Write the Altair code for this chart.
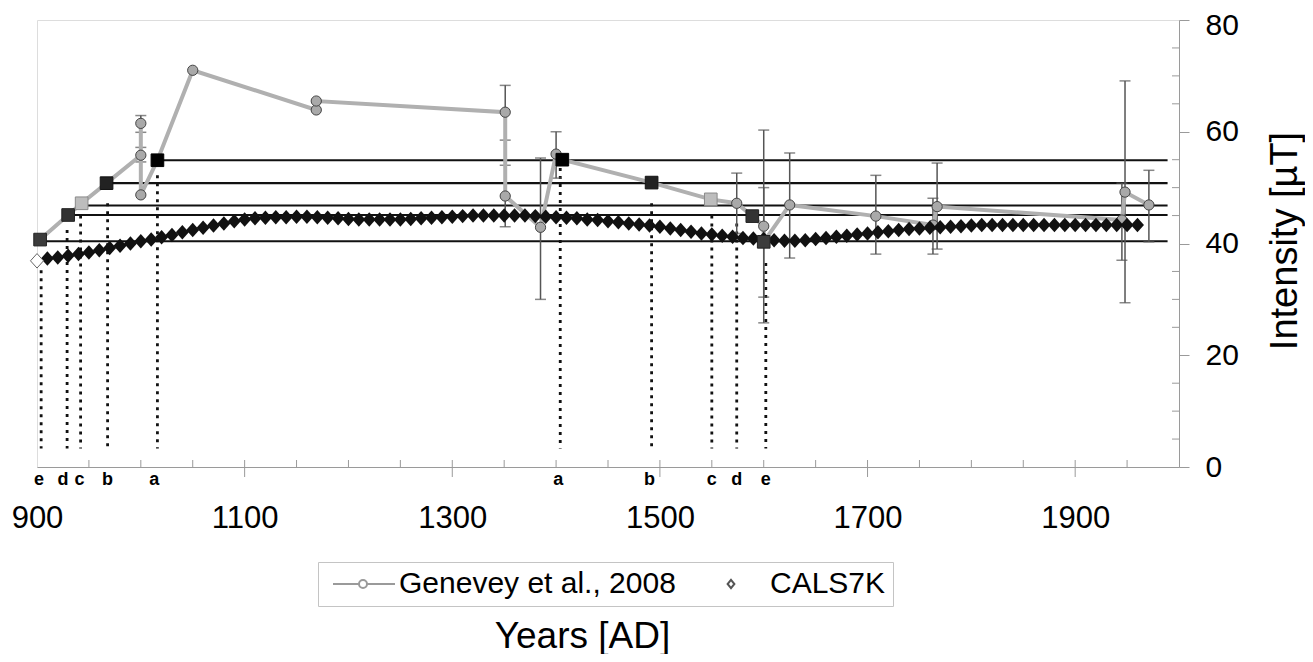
import altair as alt
import pandas as pd

FONT = "Liberation Sans"
W, H = 1142, 447

G_NAME = "Genevey et al., 2008"
C_NAME = "CALS7K"

# ---------------- data ----------------
cals_years = list(range(910, 1961, 10))
cals_values = [
    37.3, 37.5, 37.8, 38.1, 38.4, 38.8, 39.2, 39.6, 40.0, 40.4,
    40.7, 41.1, 41.5, 42.0, 42.4, 42.8, 43.2, 43.6, 44.0, 44.3,
    44.5, 44.6, 44.7, 44.7, 44.8, 44.8, 44.7, 44.6, 44.5, 44.4,
    44.3, 44.3, 44.3, 44.3, 44.3, 44.4, 44.5, 44.6, 44.7, 44.8,
    44.9, 45.0, 45.0, 45.0, 45.0, 45.0, 45.0, 44.9, 44.8, 44.7,
    44.6, 44.5, 44.3, 44.2, 44.0, 43.8, 43.6, 43.4, 43.2, 43.0,
    42.7, 42.4, 42.1, 41.8, 41.6, 41.4, 41.2, 41.0, 40.9, 40.8,
    40.6, 40.5, 40.5, 40.6, 40.8, 41.0, 41.2, 41.4, 41.6, 41.8,
    42.0, 42.2, 42.4, 42.6, 42.7, 42.8, 42.9, 43.0, 43.1, 43.2,
    43.3, 43.3, 43.3, 43.3, 43.3, 43.3, 43.3, 43.3, 43.3, 43.3,
    43.3, 43.3, 43.3, 43.3, 43.3, 43.3,
]
cals_open_years = [900]
cals_open_values = [36.9]

circle_years = [1000, 1000, 1000, 1050, 1169, 1169, 1351, 1351, 1385, 1400,
                1574, 1600, 1625, 1708, 1763, 1767, 1945, 1948, 1971]
circle_values = [55.8, 61.5, 48.7, 71.0, 63.9, 65.5, 63.5, 48.5, 42.9, 56.0,
                 47.2, 43.1, 46.9, 44.9, 43.3, 46.6, 44.2, 49.2, 46.9]

square_years = [903, 930, 943, 967, 1016, 1406, 1492, 1549, 1589, 1600]
square_values = [40.7, 45.1, 47.2, 50.8, 54.9, 55.0, 50.9, 47.9, 44.9, 40.3]
square_labels = ["e", "d", "c", "b", "a", "a", "b", "c", "d", "e"]

err_years = [1000, 1000, 1351, 1351, 1385, 1400, 1574, 1600, 1600, 1625,
             1708, 1763, 1767, 1945, 1948, 1971]
err_lo = [54.6, 59.9, 58.5, 43.0, 30.0, 51.7, 41.8, 25.8, 30.4, 37.4,
          38.1, 38.1, 39.0, 37.0, 29.4, 40.3]
err_hi = [57.2, 62.9, 68.3, 54.0, 55.3, 60.0, 52.6, 60.3, 50.0, 56.2,
          52.2, 48.1, 54.4, 50.8, 69.1, 53.1]

hline_start = [903, 930, 943, 967, 1016]
hline_level = [40.4, 45.1, 46.8, 50.8, 54.9]
hline_end = 1989

dot_years = [904, 929, 942, 968, 1016, 1404, 1492, 1550, 1574, 1602]
dot_top = [35.2, 42.4, 45.0, 47.2, 52.2, 53.5, 47.2, 45.0, 43.6, 36.5]
dot_bottom = 3.3

letter_years = [902, 925, 941, 968, 1013, 1402, 1490, 1550, 1574, 1602]
letters = ["e", "d", "c", "b", "a", "a", "b", "c", "d", "e"]

x_label_values = [900, 1100, 1300, 1500, 1700, 1900]
x_minor = list(range(950, 1951, 50))
x_major = [1100, 1300, 1500, 1700, 1900]
y_label_values = [0, 20, 40, 60, 80]
y_minor = [5, 10, 15, 25, 30, 35, 45, 50, 55, 65, 70, 75]

# styles
square_fill = {"a": "#000000", "b": "#222222", "c": "#bdbdbd", "d": "#333333", "e": "#3c3c3c"}
square_stroke = {"a": "#000000", "b": "#111111", "c": "#8a8a8a", "d": "#222222", "e": "#222222"}
DIAMOND = "M0,-1L0.9,0L0,1L-0.9,0Z"
LEG_LINE = "M-0.7,0L1.9,0M2.7,0A0.4,0.4,0,1,1,1.9,0A0.4,0.4,0,1,1,2.7,0M2.7,0L5.5,0"
LEG_DIAMOND = "M2,-0.42L2.34,0L2,0.42L1.66,0Z"

# ---------------- frames ----------------
cals_df = pd.DataFrame({"year": cals_years, "value": cals_values})
cals_open_df = pd.DataFrame({"year": cals_open_years, "value": cals_open_values})
circ_df = pd.DataFrame({"year": circle_years, "value": circle_values})
sq_df = pd.DataFrame({"year": square_years, "value": square_values, "lab": square_labels})
sq_df["fill"] = sq_df["lab"].map(square_fill)
sq_df["strk"] = sq_df["lab"].map(square_stroke)
line_df = pd.concat([circ_df[["year", "value"]], sq_df[["year", "value"]]], ignore_index=True)
line_df = line_df.sort_values("year", kind="stable").reset_index(drop=True)
line_df["idx"] = range(len(line_df))
err_df = pd.DataFrame({"year": err_years, "lo": err_lo, "hi": err_hi})
hl_df = pd.DataFrame({"year": hline_start, "end": [hline_end] * len(hline_start), "value": hline_level})
dot_df = pd.DataFrame({"year": dot_years, "value": dot_top, "bottom": [dot_bottom] * len(dot_years)})
let_df = pd.DataFrame({"year": letter_years, "lab": letters})
xminor_df = pd.DataFrame({"year": x_minor})
xmajor_df = pd.DataFrame({"year": x_major})
yminor_df = pd.DataFrame({"value": y_minor})
leg_df = pd.DataFrame({"series": [G_NAME, C_NAME], "year": [900, 900], "value": [0, 0]})

x_axis = alt.Axis(
    values=x_label_values, ticks=False, grid=False, domainColor="#9a9a9a",
    labelFont=FONT, labelFontSize=31, labelColor="black", labelPadding=60,
    labelBaseline="alphabetic", labelFlush=False, format="d",
    title="Years [AD]", titleFont=FONT, titleFontSize=37, titleFontWeight="normal",
    titleColor="black", titleX=545, titleY=180, titleAlign="center",
    titleBaseline="alphabetic",
)
y_axis = alt.Axis(
    orient="right", values=y_label_values, tickSize=10, tickColor="#9a9a9a",
    domainColor="#9a9a9a", grid=False, labelFlush=False,
    labelFont=FONT, labelFontSize=30, labelColor="black", labelPadding=16,
    labelOffset={"condition": {"test": "datum.value >= 80", "value": 5}, "value": 0},
    title="Intensity [µT]", titleFont=FONT, titleFontSize=38, titleFontWeight="normal",
    titleColor="black", titleAngle=270, titleX=106, titleY=H / 2 - 3,
    titleAlign="center", titleBaseline="middle",
)
xs = alt.Scale(domain=[900, 2000], nice=False, zero=False)
ys = alt.Scale(domain=[0, 80], nice=False)


def X(f="year"):
    return alt.X(f + ":Q", scale=xs, axis=x_axis)


def Y(f="value"):
    return alt.Y(f + ":Q", scale=ys, axis=y_axis)


hlines = alt.Chart(hl_df).mark_rule(color="#111111", strokeWidth=2.2).encode(
    x=X(), x2="end:Q", y=Y())

dots = alt.Chart(dot_df).mark_rule(color="#111111", strokeWidth=2.8, strokeDash=[3, 5]).encode(
    x=X(), y=Y(), y2="bottom:Q")

err_rules = alt.Chart(err_df).mark_rule(color="#555555", strokeWidth=1.5).encode(
    x=X(), y=Y("lo"), y2="hi:Q")
err_lo_t = alt.Chart(err_df).mark_tick(color="#555555", thickness=1.5, size=11, orient="horizontal").encode(
    x=X(), y=Y("lo"))
err_hi_t = alt.Chart(err_df).mark_tick(color="#555555", thickness=1.5, size=11, orient="horizontal").encode(
    x=X(), y=Y("hi"))

gline = alt.Chart(line_df).mark_line(color="#b0b0b0", strokeWidth=4).encode(
    x=X(), y=Y(), order="idx:Q")

circles = alt.Chart(circ_df).mark_point(
    shape="circle", filled=True, fill="#a9a9a9", stroke="#444444", strokeWidth=1,
    size=105, opacity=1).encode(x=X(), y=Y())

diamonds = alt.Chart(cals_df).mark_point(
    shape=DIAMOND, filled=True, color="#111111", size=210, opacity=1).encode(x=X(), y=Y())

open_diamond = alt.Chart(cals_open_df).mark_point(
    shape=DIAMOND, filled=True, fill="white", stroke="#666666", strokeWidth=1,
    size=210, opacity=1).encode(x=X(), y=Y())

squares = alt.Chart(sq_df).mark_point(
    shape="square", filled=True, size=160, strokeWidth=1, opacity=1).encode(
    x=X(), y=Y(),
    fill=alt.Fill("fill:N", scale=None),
    stroke=alt.Stroke("strk:N", scale=None))

letters_layer = alt.Chart(let_df).mark_text(
    font=FONT, fontWeight="bold", fontSize=18, baseline="alphabetic", align="center",
    dy=18, color="black").encode(x=X(), y=alt.value(H), text="lab:N")

tick_col = "#9a9a9a"
xminor_layer = alt.Chart(xminor_df).mark_rule(color=tick_col, strokeWidth=1).encode(
    x=X(), y=alt.value(H - 7), y2=alt.value(H))
xmajor_layer = alt.Chart(xmajor_df).mark_rule(color=tick_col, strokeWidth=1).encode(
    x=X(), y=alt.value(H), y2=alt.value(H + 10))
yminor_layer = alt.Chart(yminor_df).mark_rule(color=tick_col, strokeWidth=1).encode(
    y=Y(), x=alt.value(W - 7), x2=alt.value(W))

leg = alt.Legend(
    orient="none", legendX=281, legendY=542, direction="horizontal", title=None,
    labelFont=FONT, labelFontSize=30, labelColor="black", labelOffset=44,
    labelLimit=600, symbolSize=400, symbolStrokeWidth=2, symbolFillColor="white",
    strokeColor="#c4c4c4", fillColor="white", padding=7, columnPadding=20,
)
legend_layer = alt.Chart(leg_df).transform_filter("false").mark_point(
    filled=False, strokeWidth=2, opacity=1).encode(
    x=X(), y=Y(),
    shape=alt.Shape("series:N", scale=alt.Scale(domain=[G_NAME, C_NAME], range=[LEG_LINE, LEG_DIAMOND]), legend=leg),
    color=alt.Color("series:N", scale=alt.Scale(domain=[G_NAME, C_NAME], range=["#9a9a9a", "#555555"]), legend=leg),
)

chart = alt.layer(
    xminor_layer, xmajor_layer, yminor_layer,
    hlines, dots, err_rules, err_lo_t, err_hi_t, gline, circles,
    diamonds, open_diamond, squares, letters_layer, legend_layer,
).properties(
    width=W, height=H,
    padding={"left": 29, "top": 12, "right": 126, "bottom": 187},
    autosize=alt.AutoSizeParams(type="none"),
).configure_view(stroke="#b5b5b5", strokeWidth=1).configure(background="white")

chart.save("out.html", embed_options={"renderer": "svg", "actions": False})
